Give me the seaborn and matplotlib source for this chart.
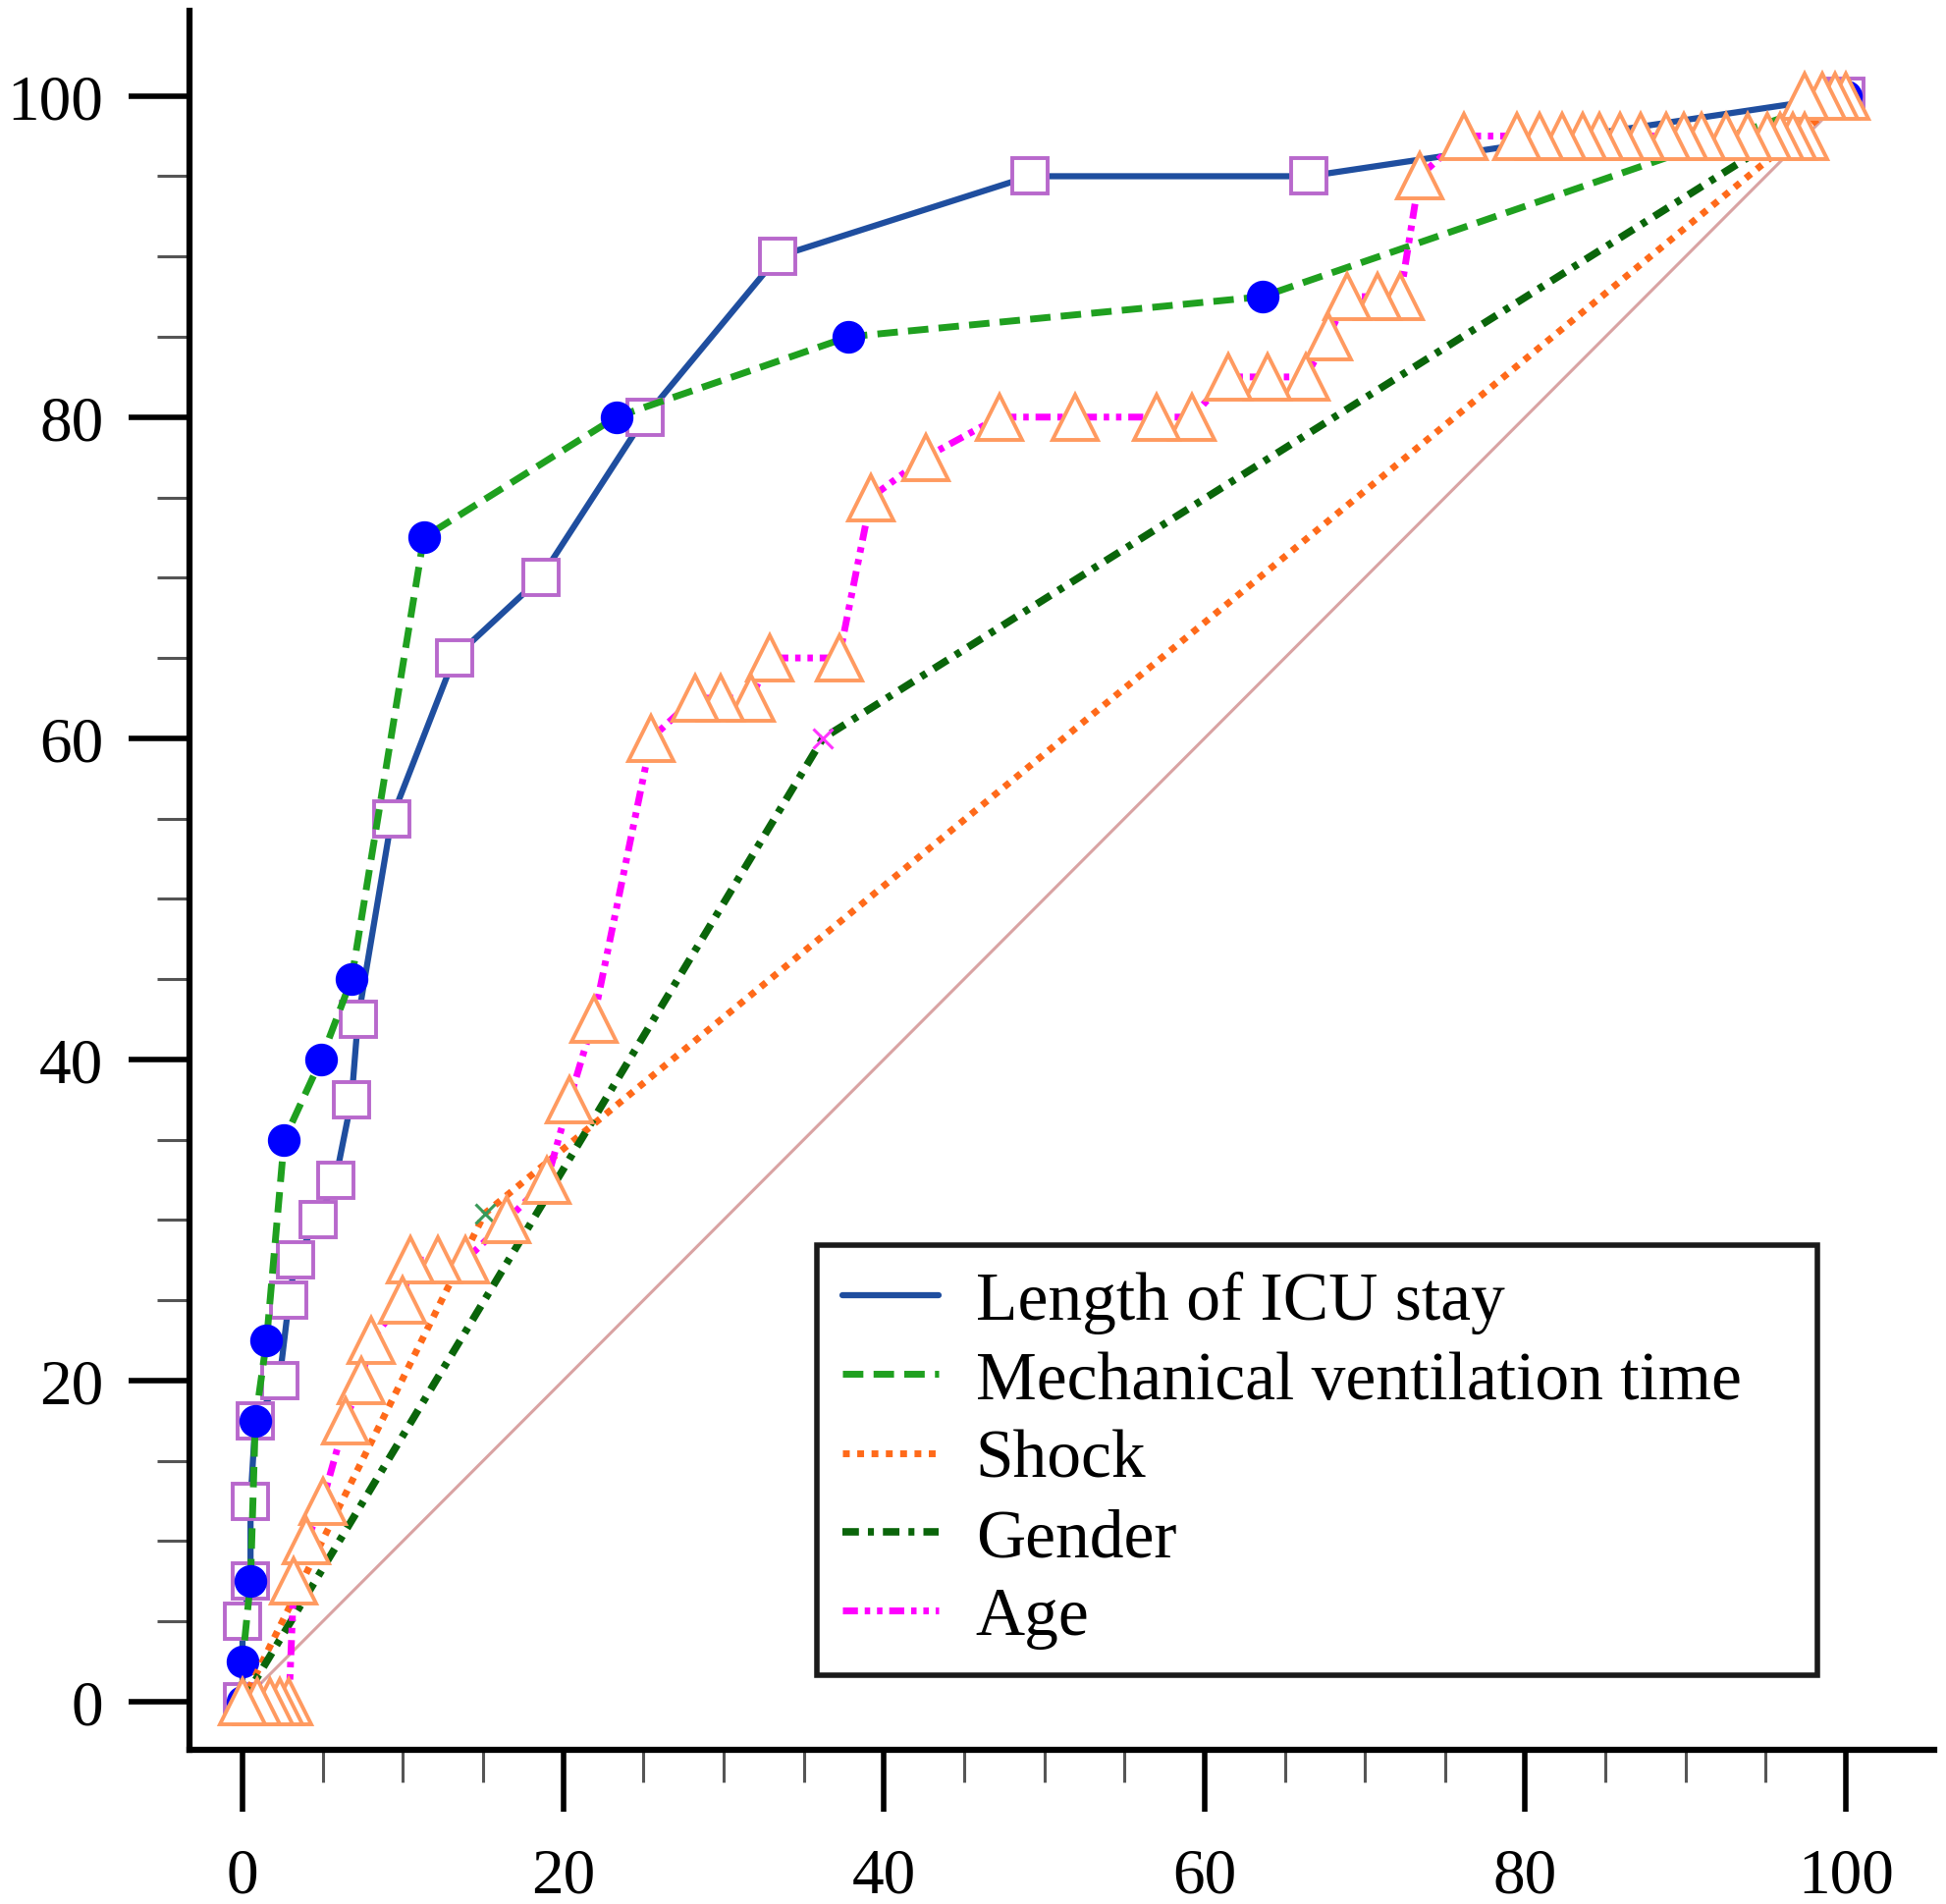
import matplotlib
matplotlib.use("Agg")
import matplotlib.pyplot as plt
import seaborn as sns
from matplotlib.lines import Line2D
from matplotlib.ticker import FixedLocator

# ROC points: 1 - specificity (%) and sensitivity (%)
icu_fpr = [0, 0, 0.5, 0.5, 0.8, 2.3, 2.9, 3.3, 4.7, 5.8, 6.8, 7.2, 9.3, 13.2,
           18.6, 25.1, 33.4, 49.1, 66.5, 100]
icu_tpr = [0, 5, 7.5, 12.5, 17.5, 20, 25, 27.5, 30, 32.5, 37.5, 42.5, 55, 65,
           70, 80, 90, 95, 95, 100]

mv_fpr = [0, 0, 0.5, 0.8, 1.5, 2.6, 4.9, 6.8, 11.3, 23.3, 37.8, 63.6, 100]
mv_tpr = [0, 2.5, 7.5, 17.5, 22.5, 35, 40, 45, 72.5, 80, 85, 87.5, 100]

shock_fpr = [0, 15.1, 100]
shock_tpr = [0, 30.4, 100]

gender_fpr = [0, 36.2, 100]
gender_tpr = [0, 60, 100]

age_fpr = [0, 0.9, 1.7, 2.3, 2.9, 3.2, 4.0, 5.0, 6.4, 7.4, 8.0, 10.0, 10.5,
           12.2, 13.9, 16.5, 19.0, 20.4, 21.9, 25.5, 28.2, 29.8, 31.7, 32.9,
           37.2, 39.2, 42.6, 47.2, 51.9, 57.0, 59.2, 61.5, 63.9, 66.3, 67.7,
           68.9, 70.8, 72.2, 73.4, 76.2, 79.5, 80.9, 82.3, 83.6, 84.6, 85.9,
           87.2, 88.8, 89.9, 91.0, 92.5, 93.9, 95.1, 95.9, 96.7, 97.4, 97.4,
           98.5, 99.3, 100]
age_tpr = [0, 0, 0, 0, 0, 7.5, 10, 12.5, 17.5, 20, 22.5, 25, 27.5,
           27.5, 27.5, 30, 32.5, 37.5, 42.5, 60, 62.5, 62.5, 62.5, 65,
           65, 75, 77.5, 80, 80, 80, 80, 82.5, 82.5, 82.5, 85,
           87.5, 87.5, 87.5, 95, 97.5, 97.5, 97.5, 97.5, 97.5, 97.5, 97.5,
           97.5, 97.5, 97.5, 97.5, 97.5, 97.5, 97.5, 97.5, 97.5, 97.5, 100,
           100, 100, 100]

ref_x = [0, 100]
ref_y = [0, 100]

labels = ["Length of ICU stay", "Mechanical ventilation time", "Shock", "Gender", "Age"]

sns.set_theme(style="ticks")
plt.rcParams['font.family'] = ['Liberation Serif', 'DejaVu Serif']

fig = plt.figure(figsize=(19.83, 19.40), dpi=100)
ax = fig.add_axes([0.0973, 0.0809, 0.8961, 0.9129])


def draw(xs, ys, **kw):
    sns.lineplot(x=xs, y=ys, sort=False, estimator=None, errorbar=None,
                 legend=False, ax=ax, **kw)


# line styles
icu_style = dict(color='#1f4e9f', linewidth=4.5, linestyle='-')
mv_style = dict(color='#1fa01f', linewidth=5, linestyle=(0, (3.0, 1.5)))
shock_style = dict(color='#ff6a1a', linewidth=5, linestyle=(0, (1, 1.1)))
gender_style = dict(color='#0a650a', linewidth=5.5, linestyle=(0, (2.2, 1.2, 0.8, 1.2)))
age_style = dict(color='#ff00ff', linewidth=5, linestyle=(0, (2.2, 1, 0.8, 1, 0.8, 1)))

# reference diagonal
draw(ref_x, ref_y, color='#d9a3a3', linewidth=2.2)

draw(icu_fpr, icu_tpr, marker='s', markersize=26, markerfacecolor='white',
     markeredgecolor='#b868cc', markeredgewidth=2.8, **icu_style)
draw(mv_fpr, mv_tpr, marker='o', markersize=23, markerfacecolor='#0000ff',
     markeredgecolor='#0000ff', markeredgewidth=1, **mv_style)
draw(shock_fpr, shock_tpr, marker='x', markersize=15, markeredgecolor='#3a9a5a',
     markeredgewidth=2.2, markevery=[1], **shock_style)
draw(gender_fpr, gender_tpr, marker='x', markersize=15, markeredgecolor='#ff33ff',
     markeredgewidth=2.2, markevery=[1], **gender_style)
# triangles drawn from the top end back to the origin
draw(age_fpr[::-1], age_tpr[::-1], marker='^', markersize=33, markerfacecolor='white',
     markeredgecolor='#ff9a60', markeredgewidth=2.8, **age_style)

ax.set_xlim(-3.31, 105.5)
ax.set_ylim(-3.0, 105.3)
ax.set_xticks(range(0, 101, 20))
ax.set_yticks(range(0, 101, 20))
minor = [v for v in range(5, 100, 5) if v % 20]
ax.xaxis.set_minor_locator(FixedLocator(minor))
ax.yaxis.set_minor_locator(FixedLocator(minor))
ax.set_xlabel("")
ax.set_ylabel("")

for side in ['top', 'right']:
    ax.spines[side].set_visible(False)
for side in ['left', 'bottom']:
    ax.spines[side].set_linewidth(4.5)
    ax.spines[side].set_color('black')

ax.tick_params(which='major', direction='out', length=45, width=4, color='black',
               labelsize=47, labelcolor='black')
ax.tick_params(axis='y', which='major', pad=18)
ax.tick_params(axis='x', which='major', pad=26)
ax.tick_params(which='minor', direction='out', length=24, width=2.2, color='#555555')

handles = [Line2D([], [], **s) for s in
           [icu_style, mv_style, shock_style, gender_style, age_style]]
leg = fig.legend(handles, labels, loc='upper left',
                 bbox_to_anchor=(0.4196, 0.1242, 0.5138, 0.2217), mode='expand',
                 borderaxespad=0, fontsize=50, labelspacing=0.24, handlelength=1.4,
                 handletextpad=0.55, borderpad=0.38, frameon=True, fancybox=False,
                 edgecolor='#1a1a1a', framealpha=1)
leg.get_frame().set_linewidth(4)
for t in leg.get_texts():
    t.set_color('black')

fig.savefig('out.png', dpi=100)
